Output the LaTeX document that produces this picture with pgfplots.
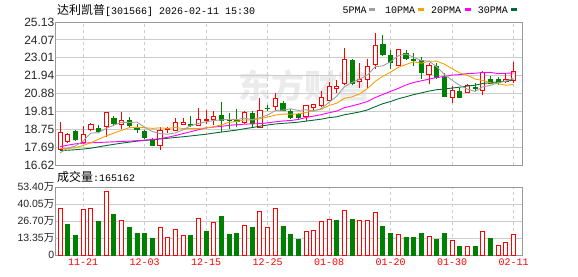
\documentclass[border=0pt]{standalone}
\usepackage{pgfplots}
\usepackage{pgfplotstable}
\pgfplotsset{compat=1.18}
\usepackage{fontspec}
\setmainfont{Liberation Sans}
\newfontfamily\cjk{Noto Sans CJK SC}
\newfontfamily\mono{Liberation Mono}
\definecolor{kred}{HTML}{FF0000}
\definecolor{kgreen}{HTML}{008000}
\definecolor{maA}{HTML}{A0A0A0}
\definecolor{maB}{HTML}{F5A300}
\definecolor{maC}{HTML}{FF00FF}
\definecolor{maD}{HTML}{006B33}
\definecolor{frame}{HTML}{999999}
\definecolor{gridc}{HTML}{CCCCCC}

% up candles: index open high low close
\pgfplotstableread{
i o h l c
0 17.55 19.18 17.51 18.54
1 18.00 18.50 17.94 18.44
3 17.98 18.94 17.86 18.42
4 18.76 19.10 18.62 19.04
6 18.94 19.75 18.30 19.75
8 19.04 19.77 18.74 19.29
13 17.79 18.90 17.51 18.70
14 18.74 18.90 18.50 18.80
15 18.70 19.39 18.64 19.15
16 19.02 19.39 19.02 19.15
18 18.98 20.01 18.94 19.35
19 19.28 19.89 19.06 19.31
20 19.35 19.85 19.02 19.53
24 19.14 19.85 19.06 19.77
26 18.86 20.60 18.80 19.89
28 20.13 20.92 19.89 20.58
32 19.49 20.19 19.25 20.15
33 20.05 20.25 19.85 20.23
34 20.15 21.02 20.05 20.64
35 20.49 21.56 20.41 21.32
36 21.18 21.68 20.92 21.28
37 21.48 23.58 21.36 22.91
39 21.58 22.67 21.18 21.72
40 21.72 22.91 21.18 22.49
41 22.61 24.46 22.31 23.74
44 22.55 23.54 22.51 23.48
48 22.01 22.67 21.42 22.55
51 20.64 21.32 20.29 21.08
53 20.94 21.42 20.88 21.36
55 21.08 22.23 20.76 22.13
58 21.60 22.07 21.52 21.72
59 21.64 22.73 21.48 22.19
}\up

% down candles
\pgfplotstableread{
i o h l c
2 18.60 18.70 18.06 18.14
5 18.82 18.98 18.50 18.64
7 19.41 19.53 18.94 19.10
9 19.29 19.45 18.80 18.99
10 18.88 19.06 18.50 18.74
11 18.64 18.70 18.14 18.24
12 18.14 18.20 17.75 17.77
17 19.04 19.53 18.86 19.00
21 19.59 20.37 18.60 19.29
22 19.29 19.69 18.78 19.27
23 19.25 19.95 18.86 19.21
25 19.71 19.85 18.84 19.08
27 20.01 20.19 19.85 19.99
29 20.29 20.43 19.81 19.89
30 19.79 19.93 19.37 19.45
31 19.63 19.73 19.37 19.43
38 22.83 22.91 21.36 21.48
42 23.82 24.34 23.11 23.19
43 23.11 23.46 22.35 22.71
45 23.26 23.46 22.87 22.97
46 22.93 23.26 22.51 22.87
47 22.83 23.03 21.75 22.13
49 22.51 22.71 21.74 21.83
50 21.81 22.07 20.64 20.72
52 20.98 21.18 20.60 20.64
54 21.22 21.48 21.00 21.18
56 21.72 21.92 21.44 21.48
57 21.72 21.88 21.38 21.52
}\dn

% moving averages: 5, 10, 20, 30
\pgfplotstableread{
i a b c d
0 17.35 17.60 17.71 17.48
1 17.62 17.60 17.80 17.50
2 17.75 17.65 17.88 17.53
3 18.05 17.78 17.92 17.57
4 18.52 17.95 17.94 17.62
5 18.54 18.15 17.96 17.70
6 18.80 18.35 17.98 17.78
7 18.99 18.52 18.00 17.85
8 19.16 18.68 18.02 17.92
9 19.15 18.84 18.04 17.98
10 19.17 18.86 18.07 18.04
11 18.87 18.84 18.10 18.08
12 18.61 18.80 18.14 18.12
13 18.49 18.83 18.19 18.17
14 18.45 18.80 18.27 18.21
15 18.53 18.85 18.37 18.26
16 18.71 18.79 18.49 18.30
17 18.96 18.78 18.60 18.35
18 19.09 18.79 18.72 18.40
19 19.19 18.82 18.83 18.45
20 19.27 18.90 18.88 18.52
21 19.30 19.01 18.92 18.58
22 19.35 19.16 18.98 18.64
23 19.32 19.21 19.02 18.70
24 19.41 19.30 19.05 18.78
25 19.32 19.30 19.07 18.85
26 19.44 19.37 19.08 18.93
27 19.59 19.47 19.13 19.00
28 19.86 19.59 19.19 19.06
29 19.89 19.65 19.24 19.10
30 19.96 19.64 19.27 19.13
31 19.87 19.66 19.33 19.17
32 19.90 19.75 19.45 19.23
33 19.83 19.85 19.53 19.29
34 19.98 19.94 19.62 19.35
35 20.35 20.16 19.73 19.44
36 20.72 20.30 19.83 19.49
37 21.28 20.59 20.03 19.61
38 21.53 20.68 20.14 19.69
39 21.74 20.86 20.26 19.78
40 21.98 21.17 20.40 19.90
41 22.47 21.60 20.63 20.09
42 22.52 21.90 20.82 20.27
43 22.77 22.15 21.00 20.40
44 23.12 22.43 21.18 20.56
45 23.22 22.60 21.38 20.68
46 23.04 22.76 21.53 20.81
47 22.83 22.68 21.63 20.91
48 22.80 22.79 21.73 21.02
49 22.47 22.80 21.83 21.10
50 22.02 22.62 21.89 21.14
51 21.66 22.35 21.97 21.20
52 21.36 22.10 22.00 21.25
53 21.13 21.96 22.06 21.32
54 21.00 21.73 22.08 21.37
55 21.28 21.65 22.12 21.47
56 21.36 21.51 22.13 21.52
57 21.53 21.45 22.06 21.57
58 21.60 21.37 22.08 21.61
59 21.80 21.41 22.10 21.69
}\ma

% volume (10k shares), red = up days
\pgfplotstableread{
i v
0 36.5
3 35.7
4 36.5
6 49.8
8 27.1
13 21.6
14 13.8
15 20.1
16 15.4
18 28.7
20 25.8
24 23.2
26 34.1
27 21.6
28 36.5
32 18.5
33 19.3
34 26.3
35 27.9
37 34.9
39 27.1
40 27.1
41 33.3
44 16.2
48 14.6
51 11.7
53 7.0
55 18.8
57 7.8
58 10.2
59 16.52
}\vup

\pgfplotstableread{
i v
1 24.2
2 15.6
5 26.6
7 32.0
9 21.9
10 17.2
11 17.2
12 13.3
17 15.6
19 18.8
21 30.5
22 16.4
23 17.2
25 21.9
29 22.7
30 16.4
31 12.5
36 27.1
38 27.9
42 22.7
43 17.2
45 14.1
46 14.1
47 17.2
49 12.5
50 17.2
52 7.0
54 7.0
56 13.3
}\vdn

\pgfplotsset{
  kax/.style={
    scale only axis, anchor=south west,
    xmin=-0.6, xmax=60.1,
    axis line style={draw=frame, line width=0.9pt},
    tick style={draw=none},
    xtick={3,11,19,27,35,43,51,59},
    xmajorgrids, ymajorgrids,
    x grid style={draw=gridc, dash pattern=on 3pt off 3pt, line width=0.8pt},
    y grid style={draw=gridc, line width=0.8pt},
    yticklabel style={font=\fontsize{12}{12}\selectfont, text=black!85, inner sep=1pt},
  },
  upbody/.style={error bars/draw error bar/.code 2 args={%
    \path ##1 coordinate (ebA) ##2 coordinate (ebB);
    \filldraw[draw=kred, fill=white, line width=0.9pt] ([xshift=-2.1pt]ebA) rectangle ([xshift=2.1pt]ebB);}},
  dnbody/.style={error bars/draw error bar/.code 2 args={%
    \path ##1 coordinate (ebA) ##2 coordinate (ebB);
    \filldraw[draw=kgreen, fill=kgreen, line width=0.9pt] ([xshift=-2.1pt]ebA) rectangle ([xshift=2.1pt]ebB);}},
  redwick/.style={error bars/draw error bar/.code 2 args={%
    \draw[kred, line width=0.9pt] ##1 -- ##2;}},
  greenwick/.style={error bars/draw error bar/.code 2 args={%
    \draw[kgreen, line width=0.9pt] ##1 -- ##2;}},
  candle/.style={draw=none, fill=none, mark=none, no markers, mark size=0pt},
}

\begin{document}
\begin{tikzpicture}
\path[use as bounding box] (0pt,0pt) rectangle (578pt,276pt);
\node[anchor=west, text=black!8, inner sep=0pt, font=\cjk\bfseries\fontsize{33}{33}\selectfont] at (238pt,190pt) {东方财富};

% title and legend
\node[anchor=west, inner sep=0pt] at (57pt,266pt) {{\cjk\fontsize{12}{12}\selectfont 达利凯普}{\mono\fontsize{10}{10}\selectfont [301566] 2026-02-11 15:30}};
\node[anchor=west, inner sep=0pt, font=\mono\fontsize{10}{10}\selectfont] at (342.5pt,266pt) {5PMA};
\fill[maA] (369pt,264.5pt) rectangle (375pt,268pt);
\node[anchor=west, inner sep=0pt, font=\mono\fontsize{10}{10}\selectfont] at (385pt,266pt) {10PMA};
\fill[maB] (418pt,264.5pt) rectangle (424pt,268pt);
\node[anchor=west, inner sep=0pt, font=\mono\fontsize{10}{10}\selectfont] at (431pt,266pt) {20PMA};
\fill[maC] (464.5pt,264.5pt) rectangle (470.5pt,268pt);
\node[anchor=west, inner sep=0pt, font=\mono\fontsize{10}{10}\selectfont] at (477.6pt,266pt) {30PMA};
\fill[maD] (511pt,264.5pt) rectangle (517pt,268pt);

\node[anchor=west, inner sep=0pt] at (57pt,99pt) {{\cjk\fontsize{12}{12}\selectfont 成交量}{\mono\fontsize{10}{10}\selectfont :165162}};

% price panel
\begin{axis}[kax, at={(55.5pt,111pt)}, width=466.5pt, height=143pt,
  ymin=16.62, ymax=25.13,
  ytick={16.62,17.68375,18.7475,19.81125,20.875,21.93875,23.0025,24.06625,25.13},
  yticklabels={16.62,17.69,18.75,19.81,20.88,21.94,23.01,24.07,25.13},
  xticklabels={}]
% wicks
\addplot[candle, redwick, error bars/.cd, y dir=plus, y explicit]
  table[x=i, y=l, y error expr=\thisrow{h}-\thisrow{l}] {\up};
\addplot[candle, greenwick, error bars/.cd, y dir=plus, y explicit]
  table[x=i, y=l, y error expr=\thisrow{h}-\thisrow{l}] {\dn};
% bodies
\addplot[candle, upbody, error bars/.cd, y dir=plus, y explicit]
  table[x=i, y=o, y error expr=\thisrow{c}-\thisrow{o}] {\up};
\addplot[candle, dnbody, error bars/.cd, y dir=plus, y explicit]
  table[x=i, y=c, y error expr=\thisrow{o}-\thisrow{c}] {\dn};
% moving averages
\addplot[maD, line width=0.9pt, mark=none] table[x=i, y=d] {\ma};
\addplot[maC, line width=0.9pt, mark=none] table[x=i, y=c] {\ma};
\addplot[maB, line width=0.9pt, mark=none] table[x=i, y=b] {\ma};
\addplot[maA, line width=0.9pt, mark=none] table[x=i, y=a] {\ma};
\end{axis}

% volume panel
\begin{axis}[kax, at={(55.5pt,21pt)}, width=466.5pt, height=68pt,
  ymin=0, ymax=53.4,
  ytick={0,13.35,26.7,40.05,53.4},
  yticklabels={0,{13.35\cjk 万},{26.70\cjk 万},{40.05\cjk 万},{53.40\cjk 万}},
  yticklabel style={font=\fontsize{10.5}{10.5}\selectfont},
  xticklabels={11-21,12-03,12-15,12-25,01-08,01-20,01-30,02-11},
  xticklabel style={font=\mono\fontsize{10}{10}\selectfont, text=kred}]
\addplot[ybar, bar width=4pt, bar shift=0pt, draw=kred, fill=white, line width=0.9pt] table[x=i, y=v] {\vup};
\addplot[ybar, bar width=4pt, bar shift=0pt, draw=kgreen, fill=kgreen, line width=0.9pt] table[x=i, y=v] {\vdn};
\end{axis}
\end{tikzpicture}
\end{document}
